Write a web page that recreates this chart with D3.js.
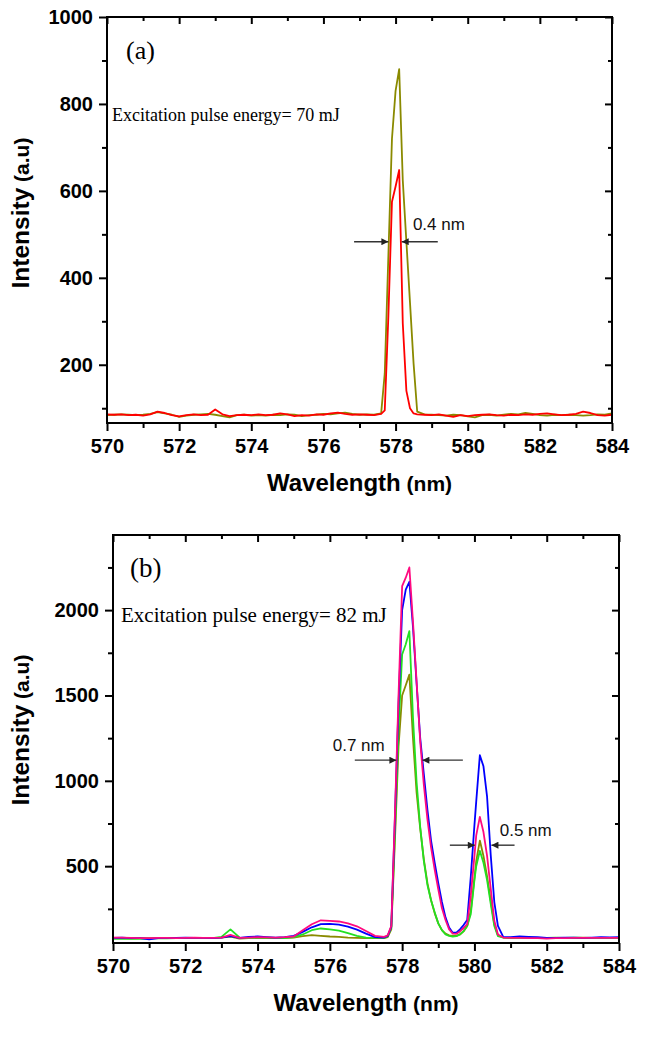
<!DOCTYPE html>
<html><head><meta charset="utf-8">
<script src="https://cdn.jsdelivr.net/npm/d3@7/dist/d3.min.js"></script>
<style>body{margin:0;background:#fff}svg{display:block}</style>
</head><body><svg id="c" width="645" height="1039"></svg>
<script>
// ---------- ticks ----------
const xTicks=[570,572,574,576,578,580,582,584];
const xMinor=[571,573,575,577,579,581,583];
const yTicksA=[200,400,600,800,1000];
const yMinorA=[100,300,500,700,900];
const yTicksB=[500,1000,1500,2000];
const yMinorB=[250,750,1250,1750,2250];

// ---------- panel (a) data ----------
const wlA=[570.0,570.2,570.4,570.6,570.8,571.0,571.2,571.4,571.6,571.8,572.0,572.2,572.4,572.6,572.8,573.0,573.2,573.4,573.6,573.8,574.0,574.2,574.4,574.6,574.8,575.0,575.2,575.4,575.6,575.8,576.0,576.2,576.4,576.6,576.8,577.0,577.2,577.4,577.6,
577.7,577.8,577.9,578.0,578.1,578.2,578.3,578.4,578.5,578.6,
578.8,579.0,579.2,579.4,579.6,579.8,580.0,580.2,580.4,580.6,580.8,581.0,581.2,581.4,581.6,581.8,582.0,582.2,582.4,582.6,582.8,583.0,583.2,583.4,583.6,583.8,584.0];
const redA=[86,85,86,84,85,83,86,92,89,84,81,84,86,84,85,97,86,82,84,85,84,86,84,85,88,86,82,84,83,86,85,88,90,87,85,86,85,84,87,
95,311,575,610,648,295,140,100,88,86,
85,84,86,83,80,84,82,84,85,86,84,83,85,84,86,85,87,88,86,84,85,87,92,89,84,83,85];
const oliveA=[84,85,86,85,84,85,87,91,88,85,80,83,85,86,87,85,82,79,84,85,83,84,83,85,84,86,85,82,84,85,87,86,88,90,87,85,86,85,88,
180,450,720,830,880,624,483,343,202,92,
86,85,84,83,85,84,81,79,84,85,83,85,87,86,89,87,84,83,85,84,85,84,83,84,86,85,88];

// ---------- panel (b) data ----------
const wlB=[570,570.25,570.5,570.75,571,571.25,571.5,571.75,572,572.25,572.5,572.75,573,573.25,573.5,573.75,574,574.25,574.5,574.75,575,
575.25,575.5,575.75,576,576.25,576.5,576.75,577,577.25,577.5,
577.6,577.7,577.8,577.9,578.0,578.1,578.2,578.3,578.4,578.5,578.6,578.7,578.8,578.9,579.0,579.1,579.2,579.3,579.4,579.5,579.6,579.7,579.8,579.9,580.0,580.05,580.15,580.25,580.35,580.45,580.55,580.65,580.8,
581,581.25,581.5,581.75,582,582.25,582.5,582.75,583,583.25,583.5,583.75,584];
const oliveB=[78,78,77,78,78,78,78,79,78,79,78,80,82,88,76,78,80,79,78,80,82,
90,96,92,88,86,82,80,78,78,78,
85,130,650,1200,1500,1560,1622,1250,930,720,540,400,300,225,165,125,105,95,92,92,100,118,150,240,430,530,650,560,440,300,160,95,82,
79,80,80,79,79,80,80,80,81,80,79,79,79];
const greenB=[75,76,75,74,76,78,77,78,79,78,80,78,86,130,82,80,80,82,80,78,84,
100,125,135,130,122,108,92,82,80,80,
88,140,700,1300,1740,1800,1877,1370,991,730,530,390,300,230,165,125,100,92,88,90,100,120,150,220,418,500,590,520,418,280,150,90,82,
80,80,79,80,80,82,80,81,80,80,80,79,80];
const blueB=[80,82,78,78,72,78,80,80,82,80,80,79,82,90,80,86,88,85,82,84,92,
115,142,160,162,158,146,128,105,84,82,
92,145,780,1450,2000,2120,2166,1900,1570,1250,1040,830,650,520,400,290,200,140,110,110,130,155,185,440,740,880,1150,1085,907,568,290,150,85,
85,88,86,84,80,80,82,82,80,82,84,83,84];
const magentaB=[82,81,80,79,78,80,80,79,80,81,80,80,82,98,80,82,84,83,82,84,88,
125,160,183,180,176,165,148,120,92,86,
95,150,800,1500,2140,2190,2250,1930,1580,1230,978,774,610,480,365,255,185,130,105,104,118,138,160,330,560,680,789,700,560,370,180,100,82,
80,80,79,78,76,78,79,80,80,80,80,80,80];

// ---------- annotations (data coords) ----------
// [y, leftStart, leftTip, rightStart, rightTip]
const fwhmA=[[483,576.85,577.80,579.17,578.17]];
const fwhmB=[[1121,576.69,577.84,579.68,578.56],[623,579.32,580.01,581.11,580.47]];
const fwhmLabelsA=[["0.4 nm",578.48,510]];
const fwhmLabelsB=[["0.7 nm",576.08,1176],["0.5 nm",580.70,676]];

const svg=d3.select("#c");
svg.append("defs").append("marker").attr("id","ah").attr("viewBox","0 0 10 10")
  .attr("refX",10).attr("refY",5).attr("markerWidth",9).attr("markerHeight",7)
  .attr("markerUnits","userSpaceOnUse").attr("orient","auto")
  .append("path").attr("d","M0,0L10,5L0,10Z").attr("fill","#222");

function panel(cfg){
  const x=d3.scaleLinear().domain([570,584]).range([cfg.l,cfg.r]);
  const y=d3.scaleLinear().domain(cfg.yd).range([cfg.b,cfg.t]);
  const g=svg.append("g");
  const line=d3.line().x(d=>x(d[0])).y(d=>y(d[1]));
  cfg.series.forEach(s=>{
    g.append("path").datum(cfg.wl.map((w,i)=>[w,s.v[i]]))
     .attr("d",line).attr("fill","none").attr("stroke",s.c)
     .attr("stroke-width",1.8).attr("stroke-linejoin","round");
  });
  // axes
  const ax=(gen,tx,ty)=>{const a=g.append("g").attr("transform",`translate(${tx},${ty})`).call(gen);
    a.select(".domain").remove(); a.selectAll("line").attr("stroke","#000").attr("stroke-width",2); return a;};
  const bl=ax(d3.axisBottom(x).tickValues(xTicks).tickSize(8).tickPadding(8).tickFormat(d3.format("d")),0,cfg.b);
  ax(d3.axisBottom(x).tickValues(xMinor).tickSize(5).tickFormat(""),0,cfg.b);
  ax(d3.axisBottom(x).tickValues(xTicks).tickSize(7).tickFormat(""),0,cfg.t);
  ax(d3.axisBottom(x).tickValues(xMinor).tickSize(4).tickFormat(""),0,cfg.t);
  const ll=ax(d3.axisLeft(y).tickValues(cfg.yt).tickSize(8).tickPadding(6).tickFormat(d3.format("d")),cfg.l,0);
  ax(d3.axisLeft(y).tickValues(cfg.ym).tickSize(5).tickFormat(""),cfg.l,0);
  ax(d3.axisLeft(y).tickValues(cfg.yt).tickSize(7).tickFormat(""),cfg.r,0);
  ax(d3.axisLeft(y).tickValues(cfg.ym).tickSize(4).tickFormat(""),cfg.r,0);
  [bl,ll].forEach(a=>a.selectAll("text").attr("font-family","Liberation Sans, Arial, sans-serif")
     .attr("font-weight","bold").attr("font-size",cfg.tf).attr("fill","#000"));
  g.append("rect").attr("x",cfg.l).attr("y",cfg.t).attr("width",cfg.r-cfg.l).attr("height",cfg.b-cfg.t)
   .attr("fill","none").attr("stroke","#000").attr("stroke-width",2);
  // axis titles
  const xt=g.append("text").attr("x",(cfg.l+cfg.r)/2).attr("y",cfg.b+68).attr("text-anchor","middle")
    .attr("font-family","Liberation Sans, Arial, sans-serif").attr("font-weight","bold");
  xt.append("tspan").attr("font-size",24).text("Wavelength");
  xt.append("tspan").attr("font-size",21).text(" (nm)");
  const yt=g.append("text").attr("transform",`translate(28.5,${cfg.yc}) rotate(-90)`).attr("text-anchor","middle")
    .attr("font-family","Liberation Sans, Arial, sans-serif").attr("font-weight","bold");
  yt.append("tspan").attr("font-size",24.5).text("Intensity");
  yt.append("tspan").attr("font-size",21).text(" (a.u)");
  // panel labels
  g.append("text").attr("x",cfg.lab[1]).attr("y",cfg.lab[2]).attr("font-family","Liberation Serif, Times New Roman, serif")
    .attr("font-size",cfg.lab[3]).text(cfg.lab[0]);
  g.append("text").attr("x",cfg.note[1]).attr("y",cfg.note[2]).attr("font-family","Liberation Serif, Times New Roman, serif")
    .attr("font-size",cfg.note[3]).text(cfg.note[0]);
  // fwhm arrows
  cfg.fw.forEach(f=>{
    [[f[1],f[2]],[f[3],f[4]]].forEach(p=>{
      g.append("line").attr("x1",x(p[0])).attr("x2",x(p[1])).attr("y1",y(f[0])).attr("y2",y(f[0]))
       .attr("stroke","#333").attr("stroke-width",1.4).attr("marker-end","url(#ah)");
    });
  });
  cfg.fl.forEach(t=>{
    g.append("text").attr("x",x(t[1])).attr("y",y(t[2])).attr("font-family","Liberation Sans, Arial, sans-serif")
     .attr("font-size",17).attr("fill","#111").text(t[0]);
  });
}

panel({l:107,r:612,t:17,b:423,yd:[66,1000],yt:yTicksA,ym:yMinorA,tf:20,yc:213,
  wl:wlA,series:[{v:oliveA,c:"#8a8a00"},{v:redA,c:"#ff0000"}],
  lab:["(a)",126,59,26],note:["Excitation pulse energy= 70 mJ",112,121,18],
  fw:fwhmA,fl:fwhmLabelsA});
panel({l:113,r:619,t:535,b:943,yd:[50,2440],yt:yTicksB,ym:yMinorB,tf:20,yc:730,
  wl:wlB,series:[{v:oliveB,c:"#8a8a00"},{v:greenB,c:"#22e022"},{v:blueB,c:"#0000ff"},{v:magentaB,c:"#ff0a80"}],
  lab:["(b)",130,577,27],note:["Excitation pulse energy= 82 mJ",121,622,21],
  fw:fwhmB,fl:fwhmLabelsB});
</script></body></html>
